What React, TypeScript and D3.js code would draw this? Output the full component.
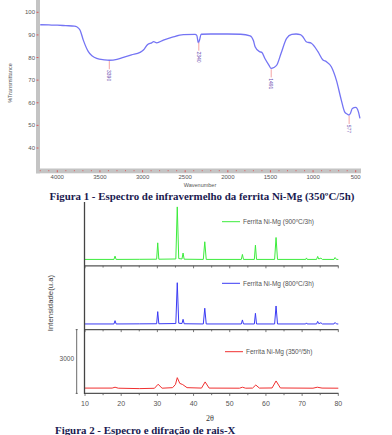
import * as d3 from "d3";

// ---- Figura 1: IR spectrum ----
const irWavenumber = [4200, 4100, 4000, 3900, 3800, 3772, 3734, 3695, 3636, 3538, 3450, 3390, 3300, 3225, 3130, 3030, 2990, 2940, 2892, 2870, 2834, 2756, 2650, 2521, 2384, 2364, 2345, 2330, 2313, 2200, 2000, 1850, 1738, 1700, 1680, 1629, 1601, 1565, 1520, 1491, 1460, 1425, 1375, 1310, 1250, 1200, 1150, 1120, 1080, 1020, 943, 884, 845, 786, 727, 669, 630, 600, 577, 560, 540, 500, 468, 450];
const irTransmittance = [94.5, 94.4, 94.3, 94.1, 93.9, 93.6, 92.2, 87.7, 82.6, 79.6, 79.0, 78.8, 79.2, 80.1, 81.2, 82.3, 83.3, 85.8, 86.5, 87.0, 86.5, 87.7, 89.0, 90.1, 90.2, 89.8, 86.5, 88.0, 90.3, 90.4, 90.4, 90.3, 89.6, 87.5, 84.8, 82.6, 82.3, 79.6, 76.8, 75.2, 75.6, 76.7, 81.9, 88.5, 90.2, 90.4, 90.1, 89.2, 87.0, 86.3, 82.6, 78.9, 78.2, 75.9, 70.0, 61.2, 56.0, 55.0, 54.6, 55.5, 57.5, 58.0, 56.0, 53.1];
const irPeaks = [3390, 2340, 1491, 577];
const irXTicks = [4000, 3500, 3000, 2500, 2000, 1500, 1000, 500];
const irYTicks = [100, 90, 80, 70, 60, 50, 40];

// ---- Figura 2: XRD patterns (2θ, counts) ----
const xrdSeries = ["Ferrita Ni-Mg (900ºC/3h)", "Ferrita Ni-Mg (800ºC/3h)", "Ferrita Ni-Mg (350º/5h)"];
const xrdColors = ["#3cec3c", "#3a3af4", "#f03030"];
const green900 = [
  [10, 300], [18.0, 300], [18.3, 455], [18.6, 300], [25, 305], [29.8, 310], [30.1, 1080], [30.4, 310],
  [35.1, 320], [35.5, 2770], [35.9, 340], [36.8, 320], [37.1, 600], [37.4, 310], [42.7, 300], [43.1, 1130],
  [43.5, 300], [53.2, 300], [53.5, 535], [53.8, 300], [56.8, 300], [57.1, 970], [57.4, 300], [62.4, 300],
  [62.8, 1330], [63.2, 300], [71.0, 300], [71.2, 370], [71.4, 300], [74.0, 300], [74.3, 440], [74.6, 320],
  [75.2, 360], [75.6, 300], [78.8, 300], [79.1, 390], [79.5, 300], [80, 300],
];
const blue800 = [
  [10, 265], [18.0, 265], [18.3, 420], [18.6, 265], [25, 270], [29.8, 275], [30.1, 845], [30.4, 275],
  [35.1, 285], [35.5, 2205], [35.9, 300], [36.8, 285], [37.1, 485], [37.4, 275], [42.7, 265], [43.1, 1005],
  [43.5, 265], [53.2, 265], [53.5, 455], [53.8, 265], [56.8, 265], [57.1, 765], [57.4, 265], [62.4, 265],
  [62.8, 1110], [63.2, 265], [71.0, 265], [71.2, 315], [71.4, 265], [74.0, 265], [74.3, 385], [74.6, 280],
  [75.2, 320], [75.6, 265], [78.8, 265], [79.1, 335], [79.5, 265], [80, 265],
];
const red350 = [
  [10, 250], [17.5, 250], [18.3, 290], [19.2, 245], [25, 225], [29.2, 240], [30.2, 430], [31.3, 245],
  [34.2, 270], [35.0, 420], [35.5, 740], [36.2, 470], [37.0, 415], [38.2, 270], [42.2, 250], [43.2, 540],
  [44.3, 250], [52.7, 245], [53.5, 290], [54.4, 245], [56.3, 250], [57.2, 395], [58.2, 250], [61.7, 255],
  [62.8, 585], [64.0, 255], [73.0, 245], [74.2, 290], [75.5, 250], [80, 245],
];
const xrdData = [green900, blue800, red350];
const xrdTicks = [10, 20, 30, 40, 50, 60, 70, 80];

export default function App() {
  // IR scales
  const ix = d3.scaleLinear().domain([4000, 500]).range([57.3, 355.7]);
  const iy = d3.scaleLinear().domain([100, 40]).range([12.3, 148]);
  const irPts = irWavenumber.map((w, i) => [w, irTransmittance[i]] as [number, number]);
  const irLine = d3.line<[number, number]>().x((d) => ix(d[0])).y((d) => iy(d[1])).curve(d3.curveMonotoneX);
  const irAt = (w: number) => {
    const i = irWavenumber.findIndex((v) => v <= w);
    if (i <= 0) return irTransmittance[0];
    const w0 = irWavenumber[i - 1], w1 = irWavenumber[i];
    const t = (w0 - w) / (w0 - w1);
    return irTransmittance[i - 1] + t * (irTransmittance[i] - irTransmittance[i - 1]);
  };
  const irMinor = d3.range(4200, 400, -100);

  // XRD scales
  const xx = d3.scaleLinear().domain([10, 80]).range([85, 338.3]);
  const top = 202, bottom = 393.4;
  const ph = (bottom - top) / 3;
  const panelY = (i: number) => d3.scaleLinear().domain([0, 3000]).range([top + (i + 1) * ph, top + i * ph]);
  const legendY = [221.7, 283.3, 351.7];
  const legendX = [222, 222, 225];
  const xrdMinor = d3.range(10, 81, 5);

  const sans = "Liberation Sans, Arial, sans-serif";
  const serif = "Liberation Serif, Times New Roman, serif";

  return (
    <div style={{ position: "absolute", left: 0, top: 0 }}>
      <svg width={392} height={435} style={{ display: "block", background: "#fff" }}>
        {/* ---------- IR chart ---------- */}
        <rect x={36} y={0} width={4} height={173.3} fill="#c4c4c4" />
        <rect x={36} y={168.5} width={325} height={4.8} fill="#c4c4c4" />
        {irYTicks.map((t) => (
          <g key={"iy" + t}>
            <line x1={36.5} x2={38.5} y1={iy(t)} y2={iy(t)} stroke="#e05050" strokeWidth={0.9} />
            <text x={35} y={iy(t)} textAnchor="end" dominantBaseline="central" fontSize={6} fontFamily={sans} fill="#555">{t}</text>
          </g>
        ))}
        {irMinor.map((t) => (
          <line key={"im" + t} x1={ix(t)} x2={ix(t)} y1={170.2} y2={t % 500 === 0 ? 172.3 : 171.2} stroke="#e05050" strokeWidth={0.9} />
        ))}
        {irXTicks.map((t) => (
          <text key={"ix" + t} x={ix(t)} y={177} textAnchor="middle" dominantBaseline="central" fontSize={6} fontFamily={sans} fill="#555">{t}</text>
        ))}
        <text x={200} y={184.5} textAnchor="middle" dominantBaseline="central" fontSize={5.5} fontFamily={sans} fill="#555">Wavenumber</text>
        <text transform="translate(10,83) rotate(-90)" textAnchor="middle" dominantBaseline="central" fontSize={5.5} fontFamily={sans} fill="#555">%Transmittance</text>
        <path d={irLine(irPts) || ""} fill="none" stroke="#7474f4" strokeWidth={1.3} />
        {irPeaks.map((p) => {
          const y0 = iy(irAt(p));
          return (
            <g key={"pk" + p}>
              <line x1={ix(p)} x2={ix(p)} y1={y0 + 0.8} y2={y0 + 9} stroke="#f4a4a4" strokeWidth={1} />
              <text transform={`translate(${ix(p)},${y0 + 9.8}) rotate(90)`} textAnchor="start" dominantBaseline="central" fontSize={5} fontFamily={sans} fill="#6a4cb0">{p}</text>
            </g>
          );
        })}
        <text x={202} y={195.5} textAnchor="middle" dominantBaseline="central" fontSize={10.9} fontWeight="bold" fontFamily={serif} fill="#1a1a50">Figura 1 - Espectro de infravermelho da ferrita Ni-Mg (350ºC/5h)</text>

        {/* ---------- XRD chart ---------- */}
        {xrdData.map((s, i) => {
          const y = panelY(i);
          const line = d3.line<number[]>().x((d) => xx(d[0])).y((d) => y(d[1]));
          return (
            <g key={"xs" + i}>
              <path d={line(s) || ""} fill="none" stroke={xrdColors[i]} strokeWidth={1} />
              <line x1={legendX[i]} x2={legendX[i] + 18} y1={legendY[i]} y2={legendY[i]} stroke={xrdColors[i]} strokeWidth={1} />
              <text x={legendX[i] + 21} y={legendY[i]} dominantBaseline="central" fontSize={6.5} fontFamily={sans} fill="#555">{xrdSeries[i]}</text>
            </g>
          );
        })}
        {[1, 2, 3].map((k) => {
          const yy = top + k * ph;
          return (
            <g key={"sep" + k}>
              <line x1={84.5} x2={338.5} y1={yy} y2={yy} stroke="#555" strokeWidth={1.2} />
              {xrdMinor.map((t) => (
                <line key={t} x1={xx(t)} x2={xx(t)} y1={yy} y2={yy + (t % 10 === 0 ? 2.5 : 1.8)} stroke="#555" strokeWidth={0.8} />
              ))}
            </g>
          );
        })}
        <line x1={84.5} x2={84.5} y1={top} y2={bottom + 0.6} stroke="#444" strokeWidth={1.3} />
        {xrdTicks.map((t) => (
          <text key={"xt" + t} x={xx(t)} y={403.3} textAnchor="middle" dominantBaseline="central" fontSize={7} fontFamily={sans} fill="#555">{t}</text>
        ))}
        <line x1={76.7} x2={76.7} y1={top + 2 * ph} y2={bottom} stroke="#444" strokeWidth={0.8} />
        <line x1={75.7} x2={77.7} y1={top + 2 * ph} y2={top + 2 * ph} stroke="#444" strokeWidth={0.8} />
        <line x1={75.7} x2={77.7} y1={bottom} y2={bottom} stroke="#444" strokeWidth={0.8} />
        <text x={74} y={358} textAnchor="end" dominantBaseline="central" fontSize={6.5} fontFamily={sans} fill="#555">3000</text>
        <text transform="translate(50,303) rotate(-90)" textAnchor="middle" dominantBaseline="central" fontSize={7.8} fontFamily={sans} fill="#444">Intensidade(u.a)</text>
        <text x={210} y={418} textAnchor="middle" dominantBaseline="central" fontSize={8} fontFamily={serif} fill="#333">2θ</text>
        <text x={55} y={430} dominantBaseline="central" fontSize={10.9} fontWeight="bold" fontFamily={serif} fill="#1a1a50">Figura 2 - Especro e difração de rais-X</text>
      </svg>
    </div>
  );
}
